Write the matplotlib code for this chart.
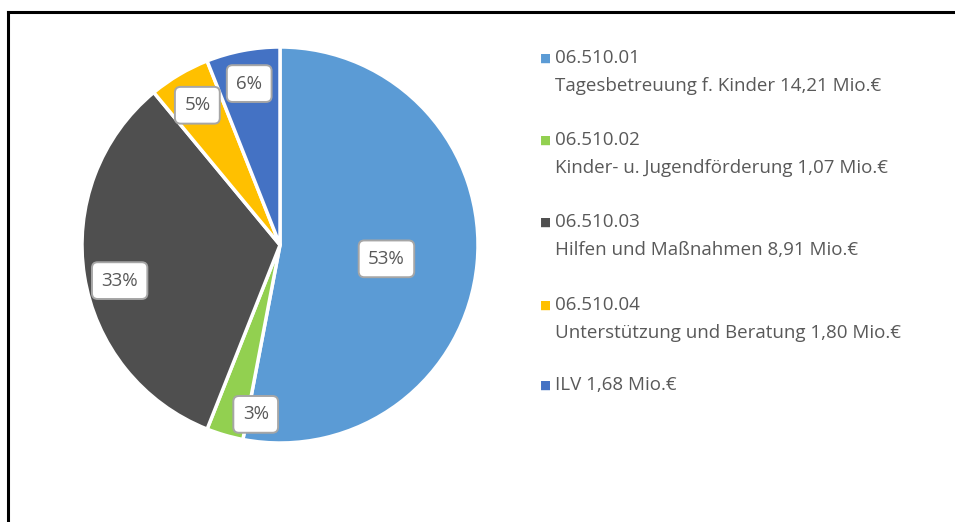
import numpy as np
import matplotlib.pyplot as plt
from matplotlib.lines import Line2D

# Data
codes = ["06.510.01", "06.510.02", "06.510.03", "06.510.04", ""]
names = ["Tagesbetreuung f. Kinder 14,21 Mio.€",
         "Kinder- u. Jugendförderung 1,07 Mio.€",
         "Hilfen und Maßnahmen 8,91 Mio.€",
         "Unterstützung und Beratung 1,80 Mio.€",
         "ILV 1,68 Mio.€"]
shares = [53, 3, 33, 5, 6]
colors = ["#5B9BD5", "#92D050", "#4F4F4F", "#FFC000", "#4472C4"]

plt.rcParams["font.family"] = ["Open Sans", "DejaVu Sans"]
text_col = "#595959"

fig = plt.figure(figsize=(9.55, 5.22), dpi=100)

# frame lines (top and left only visible)
fig.add_artist(Line2D([8 / 955, 8 / 955], [0, 1 - 12 / 522], color="black", lw=2.2))
fig.add_artist(Line2D([8 / 955, 1], [1 - 12 / 522, 1 - 12 / 522], color="black", lw=2.2))

ax = fig.add_axes([(280 - 198) / 955, (522 - 245 - 198) / 522, 396 / 955, 396 / 522])
wedges, _ = ax.pie(shares, colors=colors, startangle=90, counterclock=False,
                   wedgeprops=dict(edgecolor="white", linewidth=2.5))
ax.set_xlim(-1, 1)
ax.set_ylim(-1, 1)
ax.set_aspect("auto")

# label offsets (radius, extra x/y shift in pie units)
label_r = [0.53, 0.87, 0.83, 0.82, 0.83]
label_dx = [0.01, 0.12, 0.01, 0.0, 0.0]
label_dy = [-0.02, -0.02, -0.05, 0.0, 0.0]
for w, s, r, dx, dy in zip(wedges, shares, label_r, label_dx, label_dy):
    mid = np.deg2rad((w.theta1 + w.theta2) / 2)
    ax.text(r * np.cos(mid) + dx, r * np.sin(mid) + dy, f"{s}%",
            ha="center", va="center", fontsize=13.5, color=text_col,
            bbox=dict(boxstyle="round,pad=0.5,rounding_size=0.3", fc="white",
                      ec="#A6A6A6", lw=1.4))

# legend
rows = [(58, 86), (140, 168), (222, 250), (305, 333), (385, None)]
for code, name, c, (y1, y2) in zip(codes, names, colors, rows):
    if code:
        first, second = code, name
    else:
        first, second = name, None
    fig.text(540 / 955, 1 - y1 / 522, "■", color=c, fontsize=8.5,
             ha="left", va="center", family="DejaVu Sans")
    fig.text(555 / 955, 1 - y1 / 522, first, color=text_col, fontsize=13.5,
             ha="left", va="center")
    if second:
        fig.text(555 / 955, 1 - y2 / 522, second, color=text_col, fontsize=13.5,
                 ha="left", va="center")

fig.savefig("out.png", dpi=100)
